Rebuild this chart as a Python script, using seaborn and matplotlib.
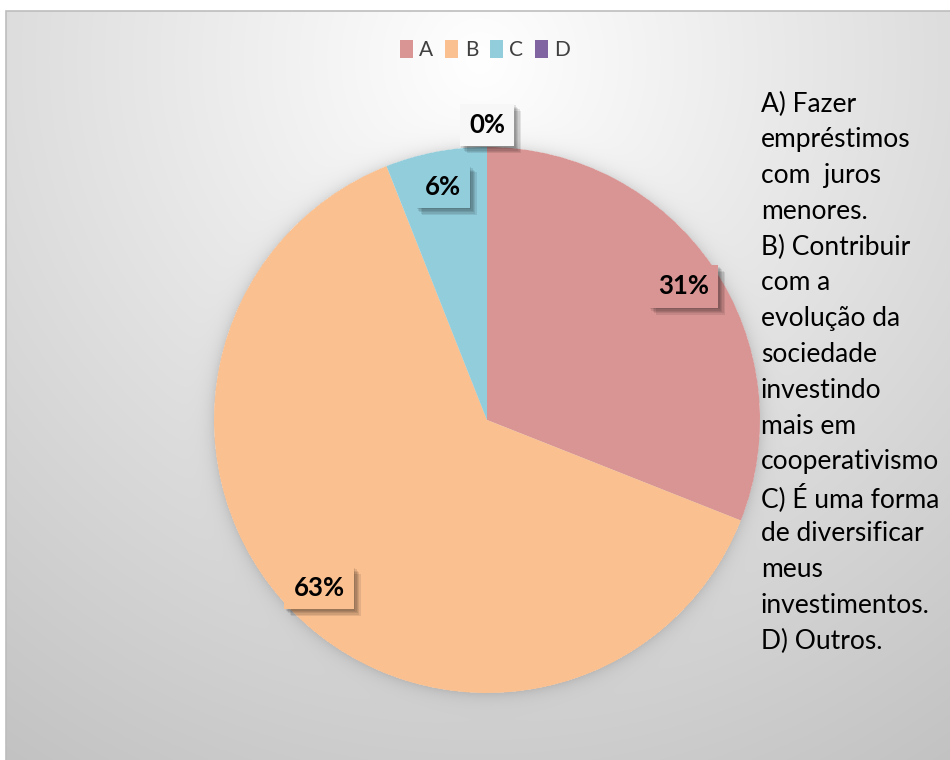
import numpy as np
import matplotlib
matplotlib.use("Agg")
import matplotlib.pyplot as plt
import matplotlib.patheffects as pe
from matplotlib.patches import Rectangle
import seaborn as sns

# Survey answers (share of respondents, %)
categories = ["A", "B", "C", "D"]
shares = [31, 63, 6, 0]
colors = ["#D99594", "#FAC090", "#92CDDC", "#8064A2"]

answer_lines = [
    "A) Fazer", "empréstimos", "com  juros", "menores.",
    "B) Contribuir", "com a", "evolução da", "sociedade", "investindo",
    "mais em", "cooperativismo", "C) É uma forma", "de diversificar",
    "meus", "investimentos.", "D) Outros.",
]

sns.set_theme(style="white")
plt.rcParams["font.family"] = ["Lato", "DejaVu Sans"]

W, H = 950, 760
fig = plt.figure(figsize=(W / 100, H / 100), dpi=100)
ax = fig.add_axes([0, 0, 1, 1])

# Chart area: soft radial grey gradient with a faint glow around the pie
cx, cy, R = 487, 420, 273
yy, xx = np.mgrid[0:H, 0:W] + 0.5
d = np.hypot(xx - 480, yy - 60)
bg = np.clip(255 - 0.072 * d, 185, 255)
dp = np.hypot(xx - cx, yy - cy) - R
bg = bg - np.where(dp > 0, 24 * np.exp(-np.clip(dp, 0, None) / 7.0), 0)
frame_x, frame_y = 6, 11
bg[(xx < frame_x) | (yy < frame_y)] = 255
img = np.dstack([bg, bg, bg]) / 255.0
ax.imshow(img, extent=(0, W, 0, H), origin="upper", zorder=0, interpolation="bilinear")
ax.add_patch(Rectangle((frame_x, -30), W + 40, H - frame_y + 30, fill=False,
                       edgecolor="#BDBDBD", linewidth=1.2, zorder=1))

wedges, _ = ax.pie(shares, colors=colors, startangle=90, counterclock=False,
                   center=(cx, H - cy), radius=R, frame=True,
                   wedgeprops=dict(linewidth=0, zorder=2))
ax.set_xlim(0, W)
ax.set_ylim(0, H)
ax.set_aspect("equal")
ax.axis("off")

# Percentage labels in boxes with a soft drop shadow
shadow = [pe.SimplePatchShadow(offset=(o, -o), shadow_rgbFace="black", alpha=0.09)
          for o in (1.0, 2.0, 3.0, 4.0, 5.0)] + [pe.Normal()]
for w, v, c in zip(wedges, shares, colors):
    mid = np.deg2rad((w.theta1 + w.theta2) / 2)
    k = 0.87 if v > 0 else 1.08
    x = cx + k * R * np.cos(mid)
    y = (H - cy) + k * R * np.sin(mid)
    fc = c if v > 0 else "#F7F7F7"
    t = ax.text(x, y, f"{v:.0f}%", ha="center", va="center", fontsize=18.5,
                fontweight="bold", color="black", zorder=5,
                bbox=dict(boxstyle="square,pad=0.36", facecolor=fc, edgecolor="none"))
    t.get_bbox_patch().set_path_effects(shadow)

leg = ax.legend(wedges, categories, loc="center", bbox_to_anchor=(485 / W, 1 - 50 / H),
                ncol=4, frameon=False, fontsize=15, handlelength=0.65,
                handleheight=0.95, handletextpad=0.3, columnspacing=0.55,
                borderaxespad=0)
for txt in leg.get_texts():
    txt.set_color("#404040")

# Answer descriptions beside the pie
top, pitch = 104, 35.8
for i, line in enumerate(answer_lines):
    ax.text(761, H - (top + i * pitch), line, ha="left", va="center",
            fontsize=19, color="black", zorder=5)

fig.savefig("out.png", dpi=100)
